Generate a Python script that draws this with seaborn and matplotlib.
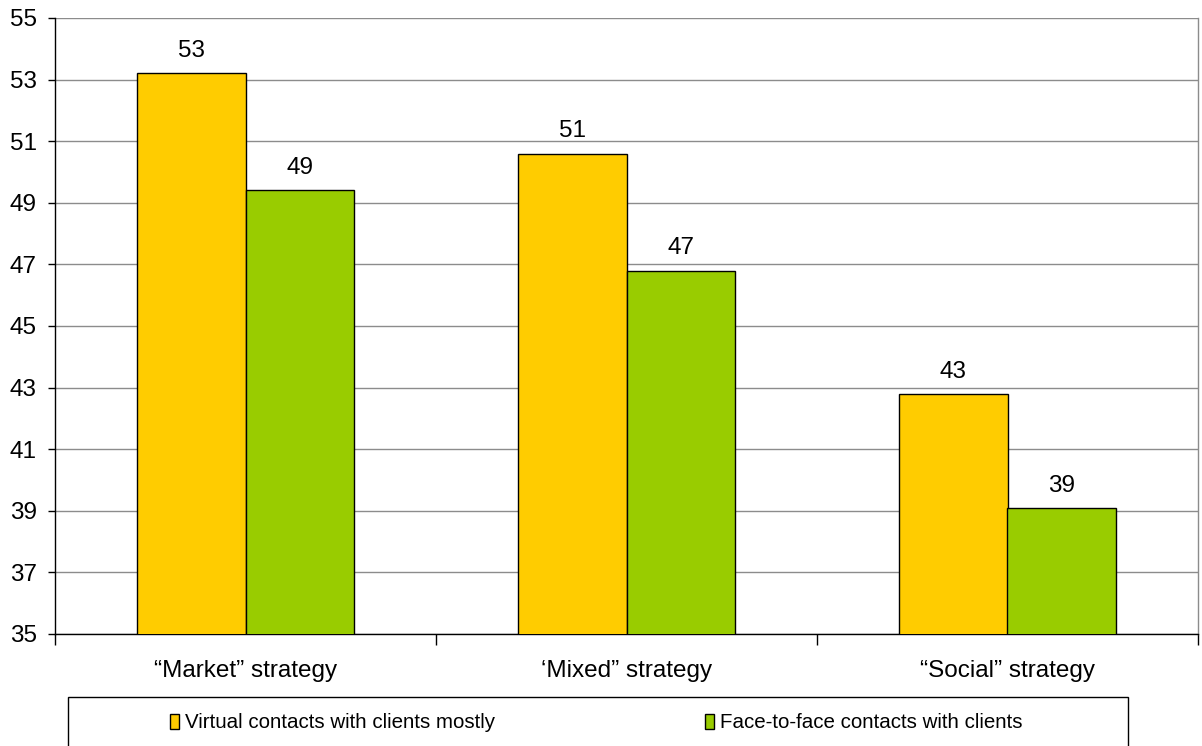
import matplotlib
matplotlib.use("Agg")
import matplotlib.pyplot as plt
import seaborn as sns
import pandas as pd
from matplotlib.patches import Patch, Rectangle

categories = ["\u201cMarket\u201d strategy", "\u2018Mixed\u201d strategy", "\u201cSocial\u201d strategy"]
series_names = ["Virtual contacts with clients mostly", "Face-to-face contacts with clients"]
virtual = [53.2, 50.6, 42.8]
face = [49.4, 46.8, 39.1]
yticks = [35, 37, 39, 41, 43, 45, 47, 49, 51, 53, 55]
colors = ["#FFCC00", "#99CC00"]

sns.set_theme(style="white")
plt.rcParams["font.family"] = ["Liberation Sans", "DejaVu Sans"]
plt.rcParams["text.color"] = "black"
plt.rcParams["xtick.color"] = "black"
plt.rcParams["ytick.color"] = "black"

df = pd.DataFrame({
    "category": categories * 2,
    "series": [series_names[0]] * 3 + [series_names[1]] * 3,
    "value": virtual + face,
})

fig = plt.figure(figsize=(12.02, 7.46), dpi=100)
ax = fig.add_axes([55 / 1202, 1 - 634 / 746, (1198 - 55) / 1202, (634 - 18) / 746])

sns.barplot(data=df, x="category", y="value", hue="series", palette=colors,
            width=0.572, gap=0, edgecolor="black", linewidth=1.0, ax=ax,
            legend=False, saturation=1, errorbar=None, zorder=3)

ax.set_ylim(35, 55)
ax.set_xlim(-0.5, 2.5)
ax.set_yticks(yticks)
ax.set_yticklabels([str(t) for t in yticks], fontsize=17.5, color="black")
ax.yaxis.grid(True, color="#8c8c8c", linewidth=1.0, zorder=0)
ax.set_axisbelow(True)
ax.set_xlabel("")
ax.set_ylabel("")
ax.tick_params(axis="y", which="major", left=True, length=5, width=1, color="black", pad=8)
ax.tick_params(axis="x", which="major", bottom=False, labelsize=17.5, labelcolor="black", pad=13)
ax.set_xticks([-0.5, 0.5, 1.5, 2.5], minor=True)
ax.tick_params(axis="x", which="minor", bottom=True, length=8, width=1, color="black")

for s in ["left", "bottom"]:
    ax.spines[s].set_visible(True)
    ax.spines[s].set_color("black")
    ax.spines[s].set_linewidth(1.0)
ax.spines["top"].set_visible(False)
ax.spines["right"].set_visible(True)
ax.spines["right"].set_color("#8c8c8c")
ax.spines["right"].set_linewidth(1.0)

for cont in ax.containers:
    ax.bar_label(cont, fmt="%.0f", padding=8, fontsize=17.5, color="black")

# legend frame (extends past the bottom edge like the reference)
top = 1 - 697 / 746
fig.add_artist(Rectangle((68 / 1202, -0.05), (1128 - 68) / 1202, top + 0.05,
                         transform=fig.transFigure, fill=False, edgecolor="black",
                         linewidth=1.0))

handles = [Patch(facecolor=c, edgecolor="black", linewidth=1.0) for c in colors]
leg = fig.legend(handles, series_names, loc="center left", ncol=2,
                 bbox_to_anchor=(170 / 1202, 1 - 723 / 746),
                 frameon=False, fontsize=14.8,
                 handlelength=0.45, handleheight=0.75, handletextpad=0.3,
                 borderpad=0, borderaxespad=0, columnspacing=10.2)

fig.savefig("out.png", dpi=100)
